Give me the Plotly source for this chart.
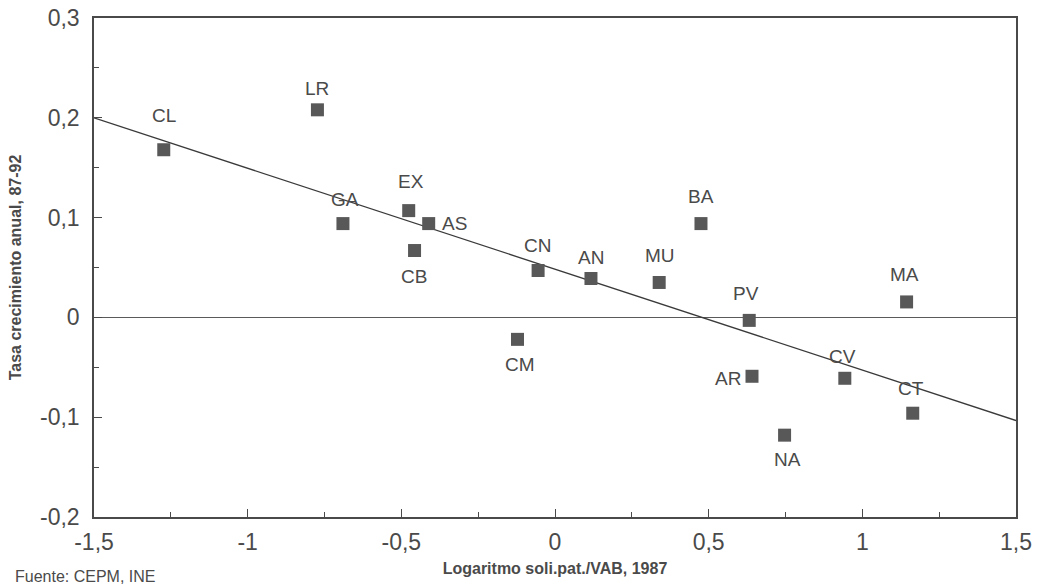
import plotly.graph_objects as go

# ---- data ----
codes = ["CL", "LR", "GA", "EX", "AS", "CB", "CN", "AN", "CM",
         "MU", "BA", "PV", "AR", "NA", "CV", "MA", "CT"]
log_pat_vab = [-1.273, -0.773, -0.690, -0.476, -0.411, -0.457, -0.055, 0.117, -0.122,
               0.339, 0.475, 0.632, 0.641, 0.747, 0.943, 1.144, 1.164]
growth_rate = [0.168, 0.208, 0.094, 0.107, 0.094, 0.067, 0.047, 0.039, -0.022,
               0.035, 0.094, -0.003, -0.059, -0.118, -0.061, 0.0155, -0.096]

reg_intercept = 0.0483
reg_slope = -0.1011

x_range = [-1.5, 1.5]
y_range = [-0.2, 0.3]
x_tickvals = [-1.5, -1, -0.5, 0, 0.5, 1, 1.5]
x_ticktext = ["-1,5", "-1", "-0,5", "0", "0,5", "1", "1,5"]
y_tickvals = [-0.2, -0.1, 0, 0.1, 0.2, 0.3]
y_ticktext = ["-0,2", "-0,1", "0", "0,1", "0,2", "0,3"]

x_title = "Logaritmo soli.pat./VAB, 1987"
y_title = "Tasa crecimiento anual, 87-92"
source_note = "Fuente: CEPM, INE"

# label offsets in pixels (dx right, dy up) - layout styling
label_dx = [0, 0, 2, 2, 26, -1, -1, 0, 2, 1, 0, -3, -24, 3, -2, -2, -2]
label_dy = [34, 21, 24, 29, 0, -26, 25, 21, -25, 27, 27, 27, -2, -24, 22, 27, 25]

INK = "#4a4a4a"
FONT = "Liberation Sans, Arial, sans-serif"

W, H = 1037, 584
ML, MR, MT, MB = 94, 21, 18, 67
PW, PH = W - ML - MR, H - MT - MB

fig = go.Figure()

# regression line
fig.add_trace(go.Scatter(
    x=x_range,
    y=[reg_intercept + reg_slope * v for v in x_range],
    mode="lines",
    line=dict(color="#3a3a3a", width=1.3),
    hoverinfo="skip",
    showlegend=False,
))

# points
fig.add_trace(go.Scatter(
    x=log_pat_vab, y=growth_rate,
    mode="markers",
    marker=dict(symbol="square", size=13, color="#585858", line=dict(width=0)),
    text=codes,
    showlegend=False,
))

annotations = []
for c, xv, yv, dx, dy in zip(codes, log_pat_vab, growth_rate, label_dx, label_dy):
    annotations.append(dict(
        x=xv, y=yv, xref="x", yref="y", text=c, showarrow=False,
        xshift=dx, yshift=dy,
        font=dict(family=FONT, size=19, color=INK),
    ))

# source note at the bottom-left corner of the page
annotations.append(dict(
    x=(13 - ML) / PW, y=-(566 - (H - MB)) / PH,
    xref="paper", yref="paper", text=source_note, showarrow=False,
    xanchor="left", yanchor="top",
    font=dict(family=FONT, size=16, color=INK),
))

fig.update_layout(
    width=W, height=H,
    margin=dict(l=ML, r=MR, t=MT, b=MB, autoexpand=False),
    paper_bgcolor="white", plot_bgcolor="white",
    font=dict(family=FONT, color=INK),
    annotations=annotations,
)

fig.update_xaxes(
    range=x_range, tickvals=x_tickvals, ticktext=x_ticktext,
    ticks="inside", ticklen=8, tickwidth=1.2, tickcolor=INK,
    minor=dict(dtick=0.25, tick0=-1.5, ticks="inside", ticklen=5, tickcolor=INK, tickwidth=1),
    showline=True, linecolor=INK, linewidth=1.5, mirror=True,
    showgrid=False, zeroline=False,
    tickfont=dict(family=FONT, size=23, color=INK),
    ticklabelstandoff=4, ticklabeloverflow="allow",
    title=dict(text="<b>" + x_title + "</b>", standoff=8,
               font=dict(family=FONT, size=16, color=INK)),
)
fig.update_yaxes(
    range=y_range, tickvals=y_tickvals, ticktext=y_ticktext,
    ticks="inside", ticklen=8, tickwidth=1.2, tickcolor=INK,
    minor=dict(dtick=0.05, tick0=-0.2, ticks="inside", ticklen=5, tickcolor=INK, tickwidth=1),
    showline=True, linecolor=INK, linewidth=1.5, mirror=True,
    showgrid=False,
    zeroline=True, zerolinecolor="#5a5a5a", zerolinewidth=1.3,
    tickfont=dict(family=FONT, size=23, color=INK),
    ticklabelstandoff=8, ticklabeloverflow="allow",
    title=dict(text="<b>" + y_title + "</b>", standoff=14,
               font=dict(family=FONT, size=16, color=INK)),
)

# remove the default 8px page margin so the figure sits at the window's corner
fig.write_html("out.html", config={"displayModeBar": False},
               post_script="document.body.style.margin='0';")
